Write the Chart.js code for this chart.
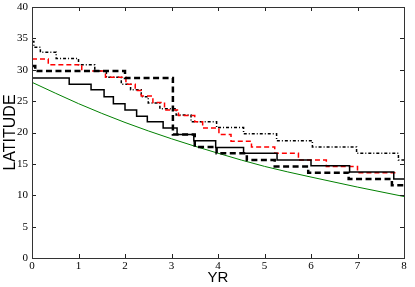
<!DOCTYPE html>
<html>
<head>
<meta charset="utf-8">
<script src="https://cdn.jsdelivr.net/npm/chart.js@4/dist/chart.umd.min.js"></script>
<style>
  html, body { margin: 0; padding: 0; background: #fff; }
  #wrap { width: 415px; height: 287px; }
</style>
</head>
<body>
<div id="wrap"><canvas id="chart" width="415" height="287"></canvas></div>
<script>
// tick labels
let xTicks = [0, 1, 2, 3, 4, 5, 6, 7, 8];
let yTicks = [0, 5, 10, 15, 20, 25, 30, 35, 40];

// step series: x where each level starts, level values, x where the line ends
let solidX = [0, 0.8, 1.27, 1.55, 1.75, 2.0, 2.25, 2.48, 2.82, 3.12, 3.48, 3.95, 4.55, 5.27, 6.0, 6.83, 7.78];
let solidY = [28.7, 27.7, 26.8, 25.7, 24.6, 23.6, 22.6, 21.7, 20.7, 19.7, 18.7, 17.6, 16.7, 15.6, 14.7, 13.7, 12.6];
let solidEnd = 8;

let dashX = [0, 0.07, 2.0, 3.03, 3.5, 3.97, 4.62, 5.22, 5.94, 6.81, 7.74];
let dashY = [30.6, 29.8, 28.7, 19.7, 17.7, 16.7, 15.6, 14.6, 13.6, 12.6, 11.6];
let dashEnd = 8;

let redX = [0, 0.35, 1.07, 1.58, 2.02, 2.22, 2.35, 2.6, 2.85, 3.15, 3.5, 3.67, 4.02, 4.28, 4.72, 5.22, 5.73, 6.33, 7.0];
let redY = [31.7, 30.8, 29.8, 28.8, 27.7, 26.7, 25.8, 24.8, 23.6, 22.7, 21.7, 20.7, 19.7, 18.6, 17.7, 16.7, 15.6, 14.6, 13.6];
let redEnd = 7.85;

let dotX = [0, 0.04, 0.18, 0.52, 1.0, 1.35, 1.6, 1.92, 2.12, 2.35, 2.5, 2.75, 3.1, 3.42, 3.97, 4.55, 5.26, 6.03, 6.98, 7.88];
let dotY = [34.5, 33.6, 32.8, 31.8, 30.8, 29.8, 28.8, 27.7, 26.8, 25.7, 24.7, 23.8, 22.8, 21.7, 20.8, 19.8, 18.7, 17.7, 16.7, 15.6];
let dotEnd = 8;

// smooth green curve
let greenX = [0, 1, 2, 3, 4, 5, 6, 7, 8];
let greenY = [28.0, 24.6, 21.6, 19.0, 16.7, 14.6, 12.9, 11.3, 9.8];

function stepPoints(xs, ys, endX){
    let pts = [];
    for (let i = 0; i < xs.length; i++) {
      pts.push({x: xs[i], y: ys[i]});
    }
    pts.push({x: endX, y: ys[ys.length - 1]});
    return pts;
}

function curvePoints(xs, ys){
    return xs.map((x, i) => ({x: x, y: ys[i]}));
}

// matplotlib style frame with inward ticks on all sides
const frameTicks = {
  id: 'frameTicks',
  afterDatasetsDraw(chart){
    let ctx = chart.ctx;
    let a = chart.chartArea;
    let sx = chart.scales.x, sy = chart.scales.y;
    ctx.save();
    ctx.strokeStyle = '#222';
    ctx.lineWidth = 1;
    ctx.beginPath();
    xTicks.forEach(v => {
      let px = Math.round(sx.getPixelForValue(v)) + 0.5;
      ctx.moveTo(px, a.bottom); ctx.lineTo(px, a.bottom - 4);
      ctx.moveTo(px, a.top); ctx.lineTo(px, a.top + 4);
    });
    yTicks.forEach(v => {
      let py = Math.round(sy.getPixelForValue(v)) + 0.5;
      ctx.moveTo(a.left, py); ctx.lineTo(a.left + 4, py);
      ctx.moveTo(a.right, py); ctx.lineTo(a.right - 4, py);
    });
    ctx.stroke();
    ctx.strokeStyle = '#333';
    ctx.strokeRect(Math.round(a.left) + 0.5, Math.round(a.top) + 0.5,
                   Math.round(a.right - a.left), Math.round(a.bottom - a.top));
    ctx.restore();
  }
};

let tickFont = { family: "'Liberation Serif', 'DejaVu Serif', serif", size: 11 };
let titleFont = { family: "'Liberation Sans', Arial, sans-serif", size: 15 };
let yTitleFont = { family: "'Liberation Sans', Arial, sans-serif", size: 16 };

new Chart(document.getElementById('chart'), {
  type: 'line',
  data: {
    datasets: [
      { data: stepPoints(solidX, solidY, solidEnd), stepped: 'before', borderColor: '#000',
        borderWidth: 1.5, order: 1 },
      { data: stepPoints(dashX, dashY, dashEnd), stepped: 'before', borderColor: '#000',
        borderWidth: 2.5, borderDash: [6, 3.5], order: 2 },
      { data: stepPoints(redX, redY, redEnd), stepped: 'before', borderColor: '#ff0000',
        borderWidth: 1.5, borderDash: [5, 3], order: 3 },
      { data: stepPoints(dotX, dotY, dotEnd), stepped: 'before', borderColor: '#000',
        borderWidth: 1.5, borderDash: [3, 2, 1, 2], order: 4 },
      { data: curvePoints(greenX, greenY), borderColor: '#008000', borderWidth: 1,
        cubicInterpolationMode: 'monotone', order: 5 }
    ]
  },
  options: {
    responsive: false,
    animation: false,
    events: [],
    elements: { point: { radius: 0 } },
    layout: { padding: { left: 0, right: 11, top: 7, bottom: 0 } },
    plugins: { legend: { display: false }, tooltip: { enabled: false } },
    scales: {
      x: {
        type: 'linear', min: 0, max: 8,
        afterFit: (scale) => {
          scale.height = 29;
          scale.paddingLeft = 0; scale.paddingRight = 0;
        },
        afterBuildTicks: (scale) => { scale.ticks = xTicks.map(v => ({value: v})); },
        grid: { display: false, drawTicks: false },
        border: { display: false },
        ticks: { color: '#000', font: tickFont, padding: 2, maxRotation: 0 },
        title: { display: true, text: 'YR', color: '#000', font: titleFont, padding: { top: 0, bottom: 0 } }
      },
      y: {
        type: 'linear', min: 0, max: 40,
        afterFit: (scale) => {
          scale.width = 32;
          scale.paddingTop = 0; scale.paddingBottom = 0;
        },
        afterBuildTicks: (scale) => { scale.ticks = yTicks.map(v => ({value: v})); },
        grid: { display: false, drawTicks: false },
        border: { display: false },
        ticks: { color: '#000', font: tickFont, padding: 4 },
        title: { display: true, text: 'LATITUDE', color: '#000', font: yTitleFont, padding: { top: 1, bottom: 1 } }
      }
    }
  },
  plugins: [frameTicks]
});
</script>
</body>
</html>
